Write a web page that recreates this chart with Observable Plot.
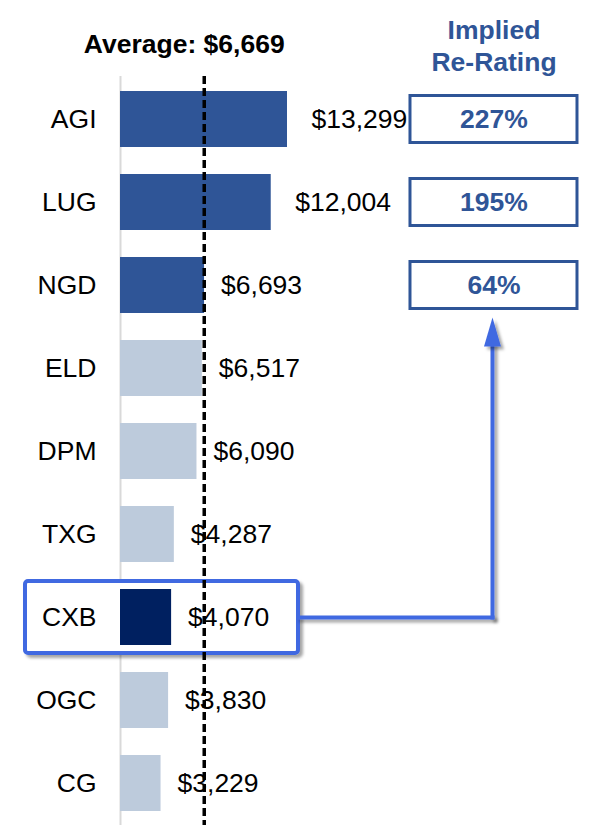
<!DOCTYPE html>
<html>
<head>
<meta charset="utf-8">
<script src="https://cdn.jsdelivr.net/npm/d3@7"></script>
<script src="https://cdn.jsdelivr.net/npm/@observablehq/plot@0.6"></script>
<style>
  html, body { margin: 0; padding: 0; background: #fff; }
  #chart svg { display: block; }
</style>
</head>
<body>
<div id="chart"></div>
<script>
// ---- data ----
const names = ["AGI", "LUG", "NGD", "ELD", "DPM", "TXG", "CXB", "OGC", "CG"];
const values = [13299, 12004, 6693, 6517, 6090, 4287, 4070, 3830, 3229];
const average = 6669;
const subject = "CXB";
const reRatingNames = ["AGI", "LUG", "NGD"];
const reRatingValues = [227, 195, 64];
const titleText = "Average: $6,669";
const reRatingTitle = "Implied\nRe-Rating";

// ---- layout (data-space positions for annotations) ----
const xMax = 37430;
const boxX1 = 23094, boxX2 = 36394;        // re-rating boxes
const hiX1 = -7566, hiX2 = 14175;          // highlight box around subject row
const arrowX = 29625;                      // connector vertical line
const boxCenter = (boxX1 + boxX2) / 2;

const rows = names.map((n, i) => ({name: n, value: values[i]}));
const rr = reRatingNames.map((n, i) => ({name: n, pct: reRatingValues[i]}));

const DARK = "#2f5597", LIGHT = "#bdcbdc", NAVY = "#002060", HIGHLIGHT = "#4169e1";
const fillFor = d => d.name === subject ? NAVY : (reRatingNames.includes(d.name) ? DARK : LIGHT);
const fmt = d3.format(",");
const label = d => "$" + fmt(d.value);
const FONT = "'Liberation Sans', Arial, Helvetica, sans-serif";
const W = 590, H = 825;

const plot = Plot.plot({
  width: W,
  height: H,
  marginLeft: 120,
  marginRight: 0,
  marginTop: 76,
  marginBottom: 0,
  style: {fontFamily: FONT, fontSize: "26.5px", background: "#fff", overflow: "visible", color: "#000"},
  x: {domain: [0, xMax], axis: null},
  y: {domain: names, axis: null, paddingInner: 0.33, paddingOuter: 0.165, align: 0.5},
  marks: [
    // axis baseline
    Plot.ruleX([0], {stroke: "#d9d9d9", strokeWidth: 2}),
    // highlight box (behind)
    Plot.rect([subject], {x1: hiX1, x2: hiX2, y: d => d, insetTop: -8, insetBottom: -8,
      fill: "#fff", stroke: HIGHLIGHT, strokeWidth: 4, rx: 3, ariaDescription: "shadowed"}),
    // connector
    Plot.link([subject], {x1: hiX2, x2: arrowX, y1: d => d, y2: d => d,
      stroke: HIGHLIGHT, strokeWidth: 4, strokeLinecap: "square", ariaDescription: "shadowed"}),
    Plot.arrow([subject], {x1: arrowX, x2: arrowX, y1: d => d, y2: () => "NGD", headLength: 0,
      insetEnd: 58, stroke: HIGHLIGHT, strokeWidth: 4, strokeLinecap: "square", ariaDescription: "shadowed"}),
    Plot.vector(["NGD"], {x: arrowX, y: d => d, shape: "spike", anchor: "start", length: 29, r: 8.5, dy: 61,
      fill: HIGHLIGHT, stroke: "none", ariaDescription: "shadowed"}),
    // bars
    Plot.barX(rows, {x: "value", y: "name", fill: fillFor}),
    // category labels
    Plot.text(names, {y: d => d, frameAnchor: "left", dx: -24, textAnchor: "end", fill: "#000"}),
    // value labels (5-digit labels sit a little further out, as in the source)
    Plot.text(rows.filter(d => d.value < 10000), {x: "value", y: "name", text: label, dx: 16.5, textAnchor: "start", fill: "#000"}),
    Plot.text(rows.filter(d => d.value >= 10000), {x: "value", y: "name", text: label, dx: 24, textAnchor: "start", fill: "#000"}),
    // re-rating boxes
    Plot.rect(rr, {x1: boxX1, x2: boxX2, y: "name", insetTop: 4.5, insetBottom: 4.5,
      fill: "#fff", stroke: DARK, strokeWidth: 3}),
    Plot.text(rr, {x: boxCenter, y: "name", text: d => d.pct + "%", fill: DARK, fontWeight: "bold"}),
    // titles
    Plot.text([titleText], {x: average, frameAnchor: "top", lineAnchor: "middle", dx: -20, dy: -32, text: d => d,
      fontWeight: "bold", fill: "#000"}),
    Plot.text([reRatingTitle], {x: boxCenter, frameAnchor: "top", lineAnchor: "middle", dy: -32, text: d => d,
      fontWeight: "bold", fill: DARK, lineHeight: 1.2}),
    // average dashed line (on top)
    Plot.ruleX([average], {stroke: "#000", strokeWidth: 3.5, strokeDasharray: "8,4"})
  ]
});

document.getElementById("chart").appendChild(plot);
// drop shadow for the highlight annotation (user-space region so thin lines keep their shadow)
const ns = "http://www.w3.org/2000/svg";
const defs = document.createElementNS(ns, "defs");
const filter = document.createElementNS(ns, "filter");
filter.setAttribute("id", "annoShadow");
filter.setAttribute("filterUnits", "userSpaceOnUse");
filter.setAttribute("x", "0"); filter.setAttribute("y", "0");
filter.setAttribute("width", String(W)); filter.setAttribute("height", String(H));
const ds = document.createElementNS(ns, "feDropShadow");
ds.setAttribute("dx", "3"); ds.setAttribute("dy", "3");
ds.setAttribute("stdDeviation", "1.8");
ds.setAttribute("flood-color", "#000"); ds.setAttribute("flood-opacity", "0.35");
filter.appendChild(ds); defs.appendChild(filter);
plot.insertBefore(defs, plot.firstChild);
plot.querySelectorAll('[aria-description="shadowed"]').forEach(g => g.setAttribute("filter", "url(#annoShadow)"));
</script>
</body>
</html>
